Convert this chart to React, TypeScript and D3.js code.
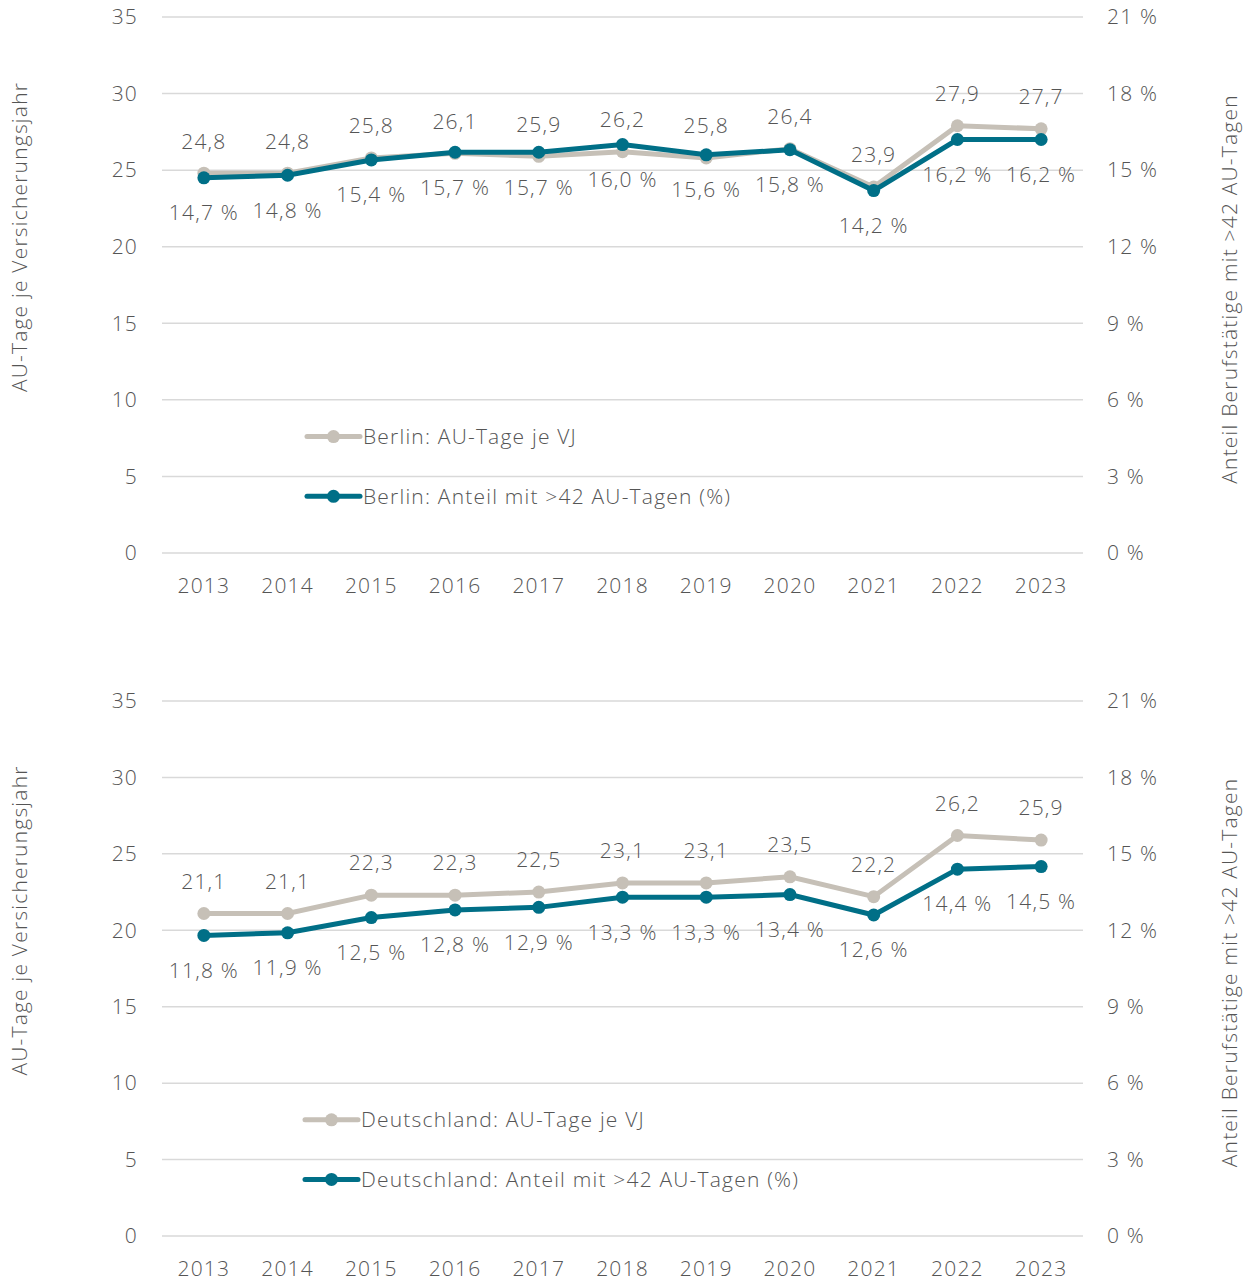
import React, { useRef, useEffect } from 'react';
import * as d3 from 'd3';

const years = ['2013', '2014', '2015', '2016', '2017', '2018', '2019', '2020', '2021', '2022', '2023'];

const berlinDays = [24.8, 24.8, 25.8, 26.1, 25.9, 26.2, 25.8, 26.4, 23.9, 27.9, 27.7];
const berlinShare = [14.7, 14.8, 15.4, 15.7, 15.7, 16.0, 15.6, 15.8, 14.2, 16.2, 16.2];

const germanyDays = [21.1, 21.1, 22.3, 22.3, 22.5, 23.1, 23.1, 23.5, 22.2, 26.2, 25.9];
const germanyShare = [11.8, 11.9, 12.5, 12.8, 12.9, 13.3, 13.3, 13.4, 12.6, 14.4, 14.5];

const leftTicks = [0, 5, 10, 15, 20, 25, 30, 35];
const rightTicks = [0, 3, 6, 9, 12, 15, 18, 21];

const leftTitle = 'AU-Tage je Versicherungsjahr';
const rightTitle = 'Anteil Berufstätige mit >42 AU-Tagen';

const GRAY = '#c6c0b7';
const TEAL = '#006f87';
const TEXT = '#555555';
const GRID = '#d9d9d9';
const FONT = '"Open Sans", sans-serif';

const fmt = (v: number) => v.toFixed(1).replace('.', ',');

const panels = [
  { top: 17, bottom: 553, days: berlinDays, share: berlinShare, legend: ['Berlin: AU-Tage je VJ', 'Berlin: Anteil mit >42 AU-Tagen (%)'], legendX: 307 },
  { top: 701, bottom: 1236, days: germanyDays, share: germanyShare, legend: ['Deutschland: AU-Tage je VJ', 'Deutschland: Anteil mit >42 AU-Tagen (%)'], legendX: 305 },
];

export default function App() {
  const svgRef = useRef(null);

  useEffect(() => {
    if (!svgRef.current) return;
    const svg = d3.select(svgRef.current);
    svg.selectAll('*').remove();

    const x = d3.scaleBand().domain(years).range([162, 1083]);
    const cx = (d: string) => (x(d) as number) + x.bandwidth() / 2;

    // shared text style
    const txt = (sel: any) => sel
      .attr('fill', TEXT).attr('font-size', 21).attr('font-family', FONT)
      .attr('font-weight', 350).attr('letter-spacing', 1.2);

    panels.forEach((p) => {
      const yL = d3.scaleLinear().domain([0, 35]).range([p.bottom, p.top]);
      const yR = d3.scaleLinear().domain([0, 21]).range([p.bottom, p.top]);
      const g = svg.append('g');

      // gridlines
      g.selectAll('.grid').data(leftTicks).enter().append('line')
        .attr('x1', 162).attr('x2', 1083)
        .attr('y1', (d) => yL(d)).attr('y2', (d) => yL(d))
        .attr('stroke', GRID).attr('stroke-width', 1.5);

      // left ticks
      g.selectAll('.lt').data(leftTicks).enter().append('text')
        .attr('x', 138).attr('y', (d) => yL(d)).attr('dy', '0.35em')
        .attr('text-anchor', 'end').call(txt)
        .text((d) => d);

      // right ticks
      g.selectAll('.rt').data(rightTicks).enter().append('text')
        .attr('x', 1107).attr('y', (d) => yR(d)).attr('dy', '0.35em')
        .call(txt)
        .text((d) => `${d} %`);

      // x labels
      g.selectAll('.xl').data(years).enter().append('text')
        .attr('x', cx).attr('y', p.bottom + 33).attr('dy', '0.35em')
        .attr('text-anchor', 'middle').call(txt)
        .text((d) => d);

      // axis titles
      const mid = (p.top + p.bottom) / 2;
      g.append('text')
        .attr('transform', `translate(20,${mid - 48}) rotate(-90)`)
        .attr('dy', '0.35em').attr('text-anchor', 'middle').call(txt)
        .text(leftTitle);
      g.append('text')
        .attr('transform', `translate(1230,${mid + 4}) rotate(-90)`)
        .attr('dy', '0.35em').attr('text-anchor', 'middle').call(txt)
        .text(rightTitle);

      const lineL = d3.line<number>().x((d, i) => cx(years[i])).y((d) => yL(d));
      const lineR = d3.line<number>().x((d, i) => cx(years[i])).y((d) => yR(d));

      g.append('path').datum(p.days).attr('d', lineL)
        .attr('fill', 'none').attr('stroke', GRAY).attr('stroke-width', 5);
      g.selectAll('.gp').data(p.days).enter().append('circle')
        .attr('cx', (d, i) => cx(years[i])).attr('cy', (d) => yL(d))
        .attr('r', 6.5).attr('fill', GRAY);

      g.append('path').datum(p.share).attr('d', lineR)
        .attr('fill', 'none').attr('stroke', TEAL).attr('stroke-width', 5);
      g.selectAll('.tp').data(p.share).enter().append('circle')
        .attr('cx', (d, i) => cx(years[i])).attr('cy', (d) => yR(d))
        .attr('r', 6.5).attr('fill', TEAL);

      // data labels
      g.selectAll('.gl').data(p.days).enter().append('text')
        .attr('x', (d, i) => cx(years[i])).attr('y', (d) => yL(d) - 32).attr('dy', '0.35em')
        .attr('text-anchor', 'middle').call(txt)
        .text((d) => fmt(d));
      g.selectAll('.tl').data(p.share).enter().append('text')
        .attr('x', (d, i) => cx(years[i])).attr('y', (d) => yR(d) + 35).attr('dy', '0.35em')
        .attr('text-anchor', 'middle').call(txt)
        .text((d) => `${fmt(d)} %`);

      // legend
      const legendY = [yL(7.6), yL(3.7)];
      [GRAY, TEAL].forEach((c, i) => {
        const lg = g.append('g');
        lg.append('line')
          .attr('x1', p.legendX).attr('x2', p.legendX + 53)
          .attr('y1', legendY[i]).attr('y2', legendY[i])
          .attr('stroke', c).attr('stroke-width', 5).attr('stroke-linecap', 'round');
        lg.append('circle').attr('cx', p.legendX + 26.5).attr('cy', legendY[i])
          .attr('r', 6.5).attr('fill', c);
        lg.append('text')
          .attr('x', p.legendX + 56).attr('y', legendY[i]).attr('dy', '0.35em')
          .call(txt)
          .text(p.legend[i]);
      });
    });
  }, []);

  return (
    <div style={{ position: 'absolute', left: 0, top: 0 }}>
      <svg ref={svgRef} width={1251} height={1285} style={{ display: 'block', background: '#fff' }}></svg>
    </div>
  );
}
